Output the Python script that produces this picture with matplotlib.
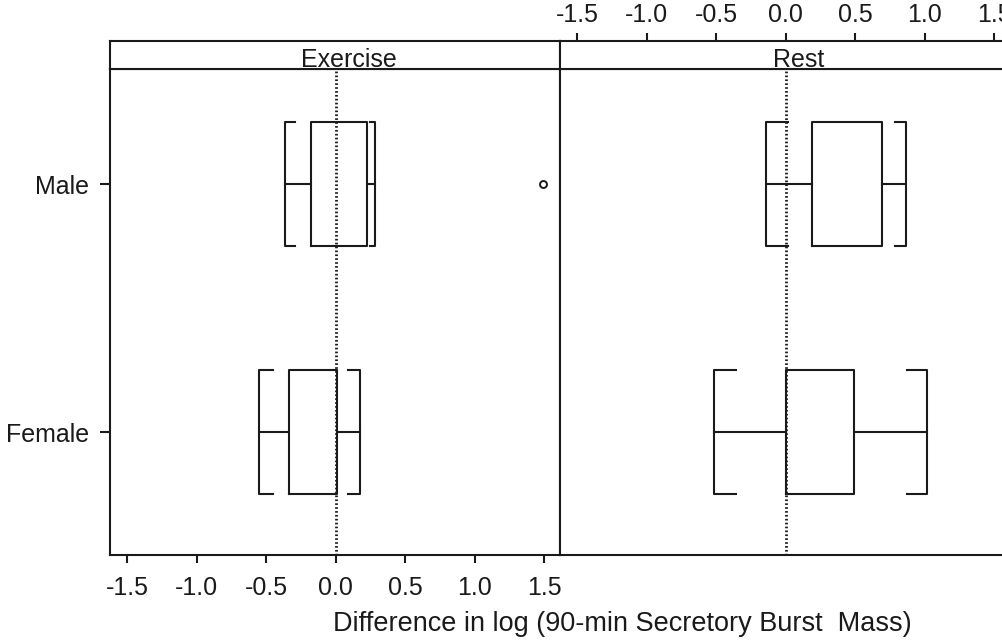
import matplotlib
matplotlib.use("Agg")
import matplotlib.pyplot as plt

plt.rcParams['font.family'] = ['Liberation Sans', 'DejaVu Sans']

# data
panels = ['Exercise', 'Rest']
groups = ['Female', 'Male']          # y positions 1, 2
whisk_lo = {'Exercise': [-0.555, -0.367], 'Rest': [-0.513, -0.144]}
cap_lo   = {'Exercise': [-0.454, -0.290], 'Rest': [-0.360, 0.014]}
q1       = {'Exercise': [-0.334, -0.180], 'Rest': [0.000, 0.187]}
q3       = {'Exercise': [0.010, 0.226],   'Rest': [0.489, 0.690]}
cap_hi   = {'Exercise': [0.089, 0.249],   'Rest': [0.870, 0.790]}
whisk_hi = {'Exercise': [0.173, 0.286],   'Rest': [1.020, 0.863]}
outliers = {'Exercise': [(1.49, 'Male')], 'Rest': []}
xticks = [-1.5, -1.0, -0.5, 0.0, 0.5, 1.0, 1.5]

fig = plt.figure(figsize=(10.02, 6.42), dpi=100)
W, H = 1002, 642
lw = 1.5
fs = 18

def px(x0, y0, x1, y1):
    return [x0 / W, 1 - y1 / H, (x1 - x0) / W, (y1 - y0) / H]

xlim = (-1.625, 1.615)
ylim = (0.504, 2.464)
hw = 0.25
ink = '#1a1a1a'

for i, name in enumerate(panels):
    x0 = 110 + 450 * i
    ax = fig.add_axes(px(x0, 69, x0 + 450, 555))
    st = fig.add_axes(px(x0, 41, x0 + 450, 69))
    ax.set_xlim(*xlim)
    ax.set_ylim(*ylim)
    st.set_xlim(*xlim)
    for a in (ax, st):
        for s in a.spines.values():
            s.set_linewidth(lw)
            s.set_color(ink)
    st.set_yticks([])
    st.text(0.53, 0.07, name, transform=st.transAxes, ha='center', va='baseline',
            fontsize=fs, color=ink)

    ax.axvline(0, color=ink, lw=2.0, ls=(0, (0.6, 0.8)))

    for j, g in enumerate(groups):
        y = j + 1
        a, b = q1[name][j], q3[name][j]
        ax.plot([a, b, b, a, a], [y - hw, y - hw, y + hw, y + hw, y - hw],
                color=ink, lw=lw)
        wl, wh = whisk_lo[name][j], whisk_hi[name][j]
        ax.plot([wl, a], [y, y], color=ink, lw=lw)
        ax.plot([b, wh], [y, y], color=ink, lw=lw)
        cl, ch = cap_lo[name][j], cap_hi[name][j]
        ax.plot([cl, wl, wl, cl], [y - hw, y - hw, y + hw, y + hw],
                color=ink, lw=lw)
        ax.plot([ch, wh, wh, ch], [y - hw, y - hw, y + hw, y + hw],
                color=ink, lw=lw)
    for xv, g in outliers[name]:
        ax.plot([xv], [groups.index(g) + 1], marker='o', ms=5, mfc='none',
                mec=ink, mew=1.4, ls='none')

    if i == 0:
        ax.set_xticks(xticks)
        ax.set_xticklabels([f'{v:.1f}' for v in xticks])
        ax.tick_params(axis='x', direction='out', length=6, width=lw,
                       labelsize=fs, pad=9, colors=ink)
        ax.set_yticks([1, 2])
        ax.set_yticklabels(groups)
        ax.tick_params(axis='y', direction='out', length=7, width=lw,
                       labelsize=fs, pad=8, colors=ink)
        st.set_xticks([])
    else:
        ax.set_xticks([])
        ax.set_yticks([])
        st.set_xticks(xticks)
        st.set_xticklabels([f'{v:.1f}' for v in xticks])
        st.xaxis.tick_top()
        st.tick_params(axis='x', direction='out', length=6, width=lw,
                       labelsize=fs, pad=4, colors=ink)

fig.text(622 / W, 1 - 624 / H, 'Difference in log (90-min Secretory Burst  Mass)',
         ha='center', va='center', fontsize=19.5, color=ink)

fig.savefig('out.png', dpi=100)
